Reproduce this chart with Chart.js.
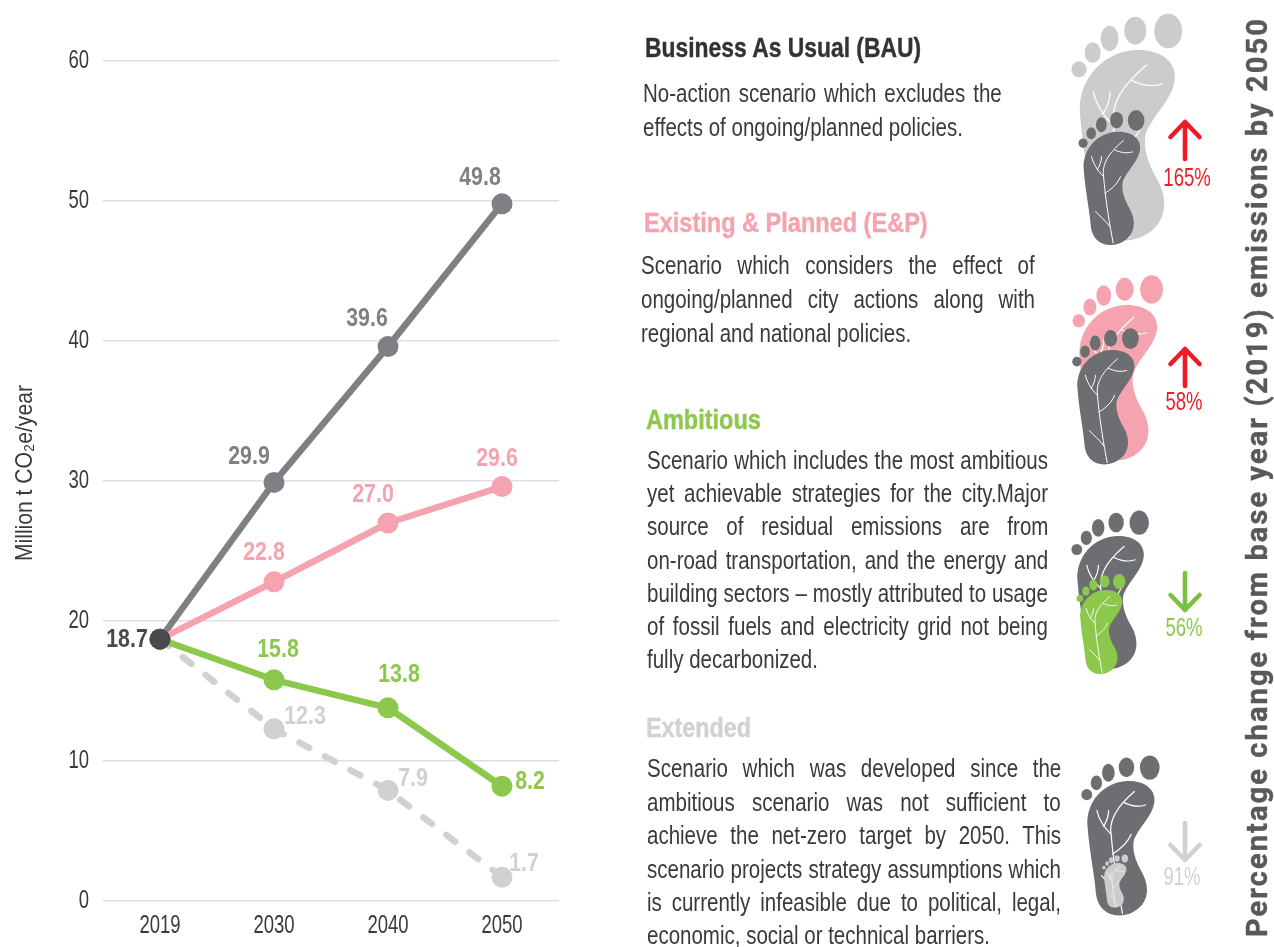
<!DOCTYPE html>
<html><head><meta charset="utf-8">
<script src="https://cdn.jsdelivr.net/npm/chart.js@4"></script>
<style>
html,body{margin:0;padding:0;background:#fff;width:1274px;height:947px;overflow:hidden}
body{position:relative;font-family:"Liberation Sans",sans-serif;color:#333}
#wrap{position:absolute;left:0;top:0;width:600px;height:947px}
#art{position:absolute;left:0;top:0}
.h,.l{position:absolute;white-space:nowrap;transform-origin:0 50%}
.h{font-weight:bold;font-size:28px;line-height:32px;-webkit-text-stroke:.4px currentColor}
.l{font-size:25px;line-height:32px;color:#3a3a3c}
.p{position:absolute;font-size:25px;line-height:28px;transform:translate(-50%,-50%) scaleX(.74);white-space:nowrap}
#side{position:absolute;left:1257px;top:477px;transform:translate(-50%,-50%) rotate(-90deg);font-family:Roboto,sans-serif;font-weight:bold;font-size:29px;letter-spacing:2.1px;color:#58595b;white-space:nowrap;-webkit-text-stroke:.4px #58595b}
</style></head><body>
<div id="wrap"><canvas id="c" width="600" height="947"></canvas></div>
<svg id="art" width="1274" height="947" viewBox="0 0 1274 947" xmlns="http://www.w3.org/2000/svg">
<defs><g id="veins" fill="none" stroke="#fff" stroke-linecap="round" stroke-linejoin="round">
<path vector-effect="non-scaling-stroke" d="M151,563 C135,480 112,350 101,210 C100,160 125,110 202,45"/>
<path vector-effect="non-scaling-stroke" d="M158,92 C185,105 220,112 249,102"/>
<path vector-effect="non-scaling-stroke" d="M42,126 C50,160 70,195 101,225"/>
<path vector-effect="non-scaling-stroke" d="M92,126 C92,150 82,175 70,193"/>
<path vector-effect="non-scaling-stroke" d="M188,227 C170,270 135,295 109,311"/>
<path vector-effect="non-scaling-stroke" d="M62,403 C85,430 110,445 134,479"/>
</g></defs>
<g id="feet"></g>
<g id="arrows" fill="none" stroke-width="4.6" stroke-linecap="round" stroke-linejoin="round"></g>
</svg>
<div id="side">Percentage change from base year (2019) emissions by 2050</div>
<div id="text"></div>
<script>
const categories = ["2019", "2030", "2040", "2050"];
const yTicks = [0, 10, 20, 30, 40, 50, 60];
const baseYear = [18.7];
const bauValues = [18.7, 29.9, 39.6, 49.8];
const epValues = [18.7, 22.8, 27.0, 29.6];
const ambitiousValues = [18.7, 15.8, 13.8, 8.2];
const extendedValues = [18.7, 12.3, 7.9, 1.7];
const yTitle = "Million t CO₂e/year";

const DARK = "#7f8083", PINK = "#f5a3ae", GREEN = "#8cc84b", LIGHT = "#d1d1d1", BASE = "#4a4a4c", FOOT = "#6d6e71", RED = "#ed1c24";
const FONT = '"Liberation Sans",sans-serif';

const labelOffsets = {
  bau: [null, [-25,-26], [-21,-28], [-22,-26]],
  ep: [null, [-10,-29], [-15,-28], [-5,-28]],
  amb: [null, [4,-30], [11,-33], [28,-4]],
  ext: [null, [31,-12], [25,-12], [22,-13]],
  base: [[-33,1]]
};

/* the reference uses a condensed face: narrow every canvas text around its anchor */
const canvas = document.getElementById("c");
const ctx2d = canvas.getContext("2d");
const nativeFill = ctx2d.fillText;
ctx2d.fillText = function (t, x, y, m) {
  const isTitle = t === yTitle, isLabel = this.font.indexOf("bold") === 0;
  this.save();
  this.translate(x, y);
  this.scale(isTitle ? 0.88 : isLabel ? 0.82 : 0.74, 1);
  nativeFill.call(this, t, isTitle ? 9 : 0, 0, m);
  this.restore();
};

function line(label, data, color, key, extra) {
  return Object.assign({label, data, key, borderColor: color, backgroundColor: color,
    pointBackgroundColor: color, pointBorderWidth: 0, pointRadius: 10.5, pointHoverRadius: 10.5,
    borderWidth: 6.5, tension: 0, fill: false, borderCapStyle: "round", borderJoinStyle: "round"}, extra || {});
}

const dataLabels = {
  id: "dataLabels",
  afterDatasetsDraw(chart) {
    const ctx = chart.ctx;
    ctx.save();
    ctx.font = "bold 26px " + FONT;
    ctx.textAlign = "center"; ctx.textBaseline = "middle";
    chart.data.datasets.forEach((ds, i) => {
      const meta = chart.getDatasetMeta(i);
      ds.data.forEach((v, j) => {
        const off = labelOffsets[ds.key][j];
        if (!off) return;
        ctx.fillStyle = ds.key === "base" ? BASE : ds.borderColor;
        ctx.fillText(v.toFixed(1), meta.data[j].x + off[0], meta.data[j].y + off[1]);
      });
    });
    ctx.restore();
  }
};

new Chart(canvas, {
  type: "line",
  data: { labels: categories, datasets: [
    line("Extended", extendedValues, LIGHT, "ext", {borderDash: [11, 18], order: 5}),
    line("Business As Usual (BAU)", bauValues, DARK, "bau", {order: 4}),
    line("Existing & Planned (E&P)", epValues, PINK, "ep", {order: 3}),
    line("Ambitious", ambitiousValues, GREEN, "amb", {order: 2}),
    line("Base year", baseYear, BASE, "base", {order: 1, showLine: false})
  ]},
  options: {
    responsive: false, animation: false, devicePixelRatio: 1,
    layout: { padding: { top: 61, right: 41, bottom: 0, left: 0 } },
    plugins: { legend: { display: false }, tooltip: { enabled: false } },
    scales: {
      x: { offset: true, grid: { display: false }, border: { display: false },
        ticks: { color: "#3a3a3c", font: { family: FONT, size: 25 }, padding: 2, maxRotation: 0, autoSkip: false },
        afterFit(s) { s.height = 46; } },
      y: { min: 0, max: 60, afterBuildTicks(s) { s.ticks = yTicks.map(v => ({value: v})); },
        grid: { color: "#dfdfdf", lineWidth: 1.4, drawTicks: false }, border: { display: false },
        ticks: { color: "#3a3a3c", font: { family: FONT, size: 25 }, padding: 14 },
        title: { display: true, text: yTitle, color: "#3a3a3c", font: { family: FONT, size: 24 }, padding: { top: 11, bottom: 0 } },
        afterFit(s) { s.width = 103; } }
    }
  },
  plugins: [dataLabels]
});

/* side panel text */
const blocks = [
  { title: "Business As Usual (BAU)", color: "#333", hx: 645, hy: 48, hw: 276, x: 643, w: 359, ys: [93,127],
    lines: ["No-action scenario which excludes the", "effects of ongoing/planned policies."] },
  { title: "Existing & Planned (E&P)", color: PINK, hx: 644, hy: 223, hw: 284, x: 641, w: 394, ys: [265,299,333],
    lines: ["Scenario which considers the effect of", "ongoing/planned city actions along with", "regional and national policies."] },
  { title: "Ambitious", color: GREEN, hx: 646, hy: 420, hw: 115, x: 647, w: 401, ys: [460,493,526,560,593,626,659],
    lines: ["Scenario which includes the most ambitious", "yet achievable strategies for the city.Major", "source of residual emissions are from", "on-road transportation, and the energy and", "building sectors – mostly attributed to usage", "of fossil fuels and electricity grid not being", "fully decarbonized."] },
  { title: "Extended", color: LIGHT, hx: 646, hy: 728, hw: 105, x: 647, w: 414, ys: [768,802,835,869,902,935],
    lines: ["Scenario which was developed since the", "ambitious scenario was not sufficient to", "achieve the net-zero target by 2050. This", "scenario projects strategy assumptions which", "is currently infeasible due to political, legal,", "economic, social or technical barriers."] }
];
const BODY_SX = 0.82;
const host = document.getElementById("text");
function place(cls, text, x, y, color) {
  const d = document.createElement("div");
  d.className = cls; d.textContent = text;
  d.style.left = x + "px"; d.style.top = (y - 16) + "px";
  if (color) d.style.color = color;
  host.appendChild(d);
  return d;
}
blocks.forEach(b => {
  const h = place("h", b.title, b.hx, b.hy, b.color);
  h.style.transform = `scaleX(${b.hw / h.offsetWidth})`;
  b.lines.forEach((t, i) => {
    const d = place("l", t, b.x, b.ys[i]);
    const n = d.offsetWidth;
    if (i === b.lines.length - 1) { d.style.transform = `scaleX(${BODY_SX})`; return; }
    const sx = Math.min(BODY_SX, b.w / n);
    const spaces = t.split(" ").length - 1;
    d.style.wordSpacing = (b.w / sx - n) / spaces + "px";
    d.style.transform = `scaleX(${sx})`;
  });
});

/* footprints and arrows */
const NS = "http://www.w3.org/2000/svg";
function foot(x, y, s, color, veinWidth) {
  const g = document.createElementNS(NS, "g");
  g.setAttribute("transform", `translate(${x} ${y}) scale(${s})`);
  g.setAttribute("fill", color);
  g.innerHTML = `<path d="M170,0 C240,-2 290,30 287,85 C283,145 225,190 200,250 C190,290 205,340 235,390 C262,440 262,490 235,525 C210,555 175,572 135,572 C85,572 45,540 38,480 C34,410 10,300 2,190 C-5,90 70,5 170,0 Z"/>
  <ellipse cx="267" cy="-57" rx="42" ry="52"/><ellipse cx="168" cy="-58" rx="33" ry="42"/><ellipse cx="91" cy="-35" rx="27" ry="38"/><ellipse cx="40" cy="8" rx="24" ry="31"/><ellipse cx="-1" cy="58" rx="23" ry="24"/>
  <use href="#veins" stroke-width="${veinWidth}"/>`;
  document.getElementById("feet").appendChild(g);
}
[[1079.3,50,.333,"#cccccc",1.3],[1083.3,131.7,.198,FOOT,1],
 [1079,305,.272,PINK,1.2],[1077,350,.2,FOOT,1],
 [1077,536,.233,FOOT,1.2],[1080,590,.147,GREEN,.9],
 [1087,781,.235,FOOT,1.2],[1104,863,.078,"#cccccc",.6]].forEach(f => foot(f[0], f[1], f[2], f[3], f[4]));

function arrow(x, y0, y1, dir, color) {
  const tip = dir < 0 ? y0 : y1, arm = tip - dir * 15;
  const p = document.createElementNS(NS, "path");
  p.setAttribute("d", `M${x},${y0} L${x},${y1} M${x-14.5},${arm} L${x},${tip} L${x+14.5},${arm}`);
  p.setAttribute("stroke", color);
  document.getElementById("arrows").appendChild(p);
}
arrow(1185,122,159,-1,RED); arrow(1185,349,386,-1,RED);
arrow(1185,573,610,1,"#7ac143"); arrow(1185,823,860,1,LIGHT);
[["165%",1187,177,RED],["58%",1184,401,RED],["56%",1184,627,"#8cc84b"],["91%",1182,876,LIGHT]].forEach(a => {
  const d = document.createElement("div"); d.className = "p"; d.textContent = a[0];
  d.style.left = a[1] + "px"; d.style.top = a[2] + "px"; d.style.color = a[3]; host.appendChild(d);
});
</script>
</body></html>
